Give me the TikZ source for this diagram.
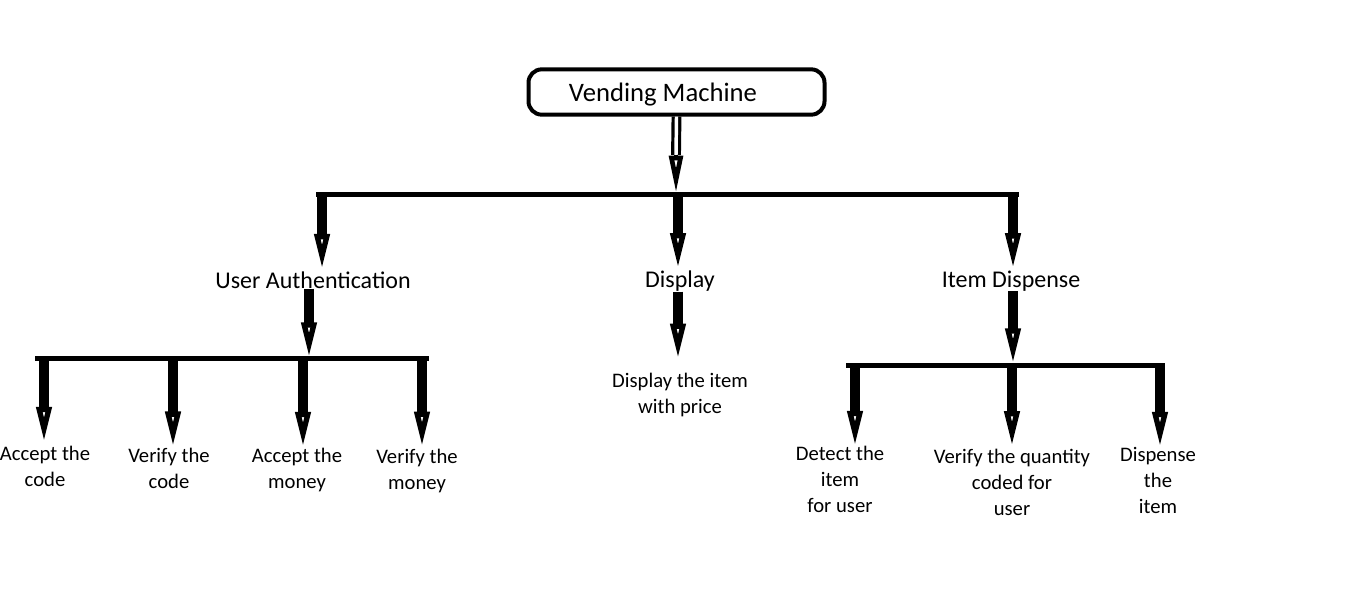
\documentclass[tikz,border=0pt]{standalone}
\usepackage{fontspec}
\setmainfont{Carlito}
\usetikzlibrary{arrows.meta}
\begin{document}
\begin{tikzpicture}[x=0.75pt,y=-0.75pt,
  lbl/.style={align=center, inner sep=0pt, font=\fontsize{15.5}{19.5}\selectfont},
  hd/.style={inner sep=0pt, font=\fontsize{18}{21}\selectfont},
  bar/.style={line width=3.75pt, line cap=rect},
  drop/.style={line width=7.5pt, -{Triangle[open, length=26pt, width=11pt, line width=4pt]}},
  tiponly/.style={line width=2.5pt, -{Triangle[open, length=28pt, width=10pt, line width=3.5pt]}},
  dblshaft/.style={double, line width=2.4pt, double distance=2.6pt},
]
\useasboundingbox (0,0) rectangle (1360,593);
% top box
\node[draw, line width=3pt, rounded corners=10pt, minimum width=222pt, minimum height=34pt] (vm) at (676.5,92) {};
\node[inner sep=0pt, font=\fontsize{20}{24}\selectfont] (vmt) at (663,95) {Vending Machine};
\coordinate (j0h) at (676,155);
\coordinate (j0) at (676,193);
\draw[dblshaft] (vm.south) -- (j0h);
\draw[tiponly] (j0h) -- (j0);
% first level bar
\coordinate (bL) at (318,194);
\coordinate (bR) at (1016,194);
\draw[bar] (bL) -- (bR);
\coordinate (d1) at (322,194);
\coordinate (d2) at (678,194);
\coordinate (d3) at (1013,194);
\node[hd] (ua) at (313,280) {User Authentication};
\node[hd] (ds) at (680,281) {Display};
\node[hd] (id) at (1011,281) {Item Dispense};
\draw[drop, shorten >=2pt] (d1) -- (d1 |- ua.north);
\draw[drop, shorten >=2pt] (d2) -- (d2 |- ds.north);
\draw[drop, shorten >=2pt] (d3) -- (d3 |- id.north);
% user authentication branch
\coordinate (u0) at (309,357);
\draw[drop] (u0 |- ua.south) -- (u0);
\coordinate (ubL) at (37,358);
\coordinate (ubR) at (426,358);
\draw[bar] (ubL) -- (ubR);
\coordinate (e1) at (44,358);
\coordinate (e2) at (173,358);
\coordinate (e3) at (303,358);
\coordinate (e4) at (422,358);
\node[lbl] (ac) at (45,466) {Accept the\\code};
\node[lbl] (vc) at (169,468) {Verify the\\code};
\node[lbl] (am) at (297,470) {Accept the\\money};
\node[lbl] (vmo) at (417,471) {Verify the\\money};
\draw[drop, shorten >=3pt] (e1) -- (e1 |- ac.north);
\draw[drop, shorten >=1pt] (e2) -- (e2 |- vc.north);
\draw[drop, shorten >=1pt] (e3) -- (e3 |- am.north);
\draw[drop, shorten >=2pt] (e4) -- (e4 |- vmo.north);
% display branch
\node[lbl] (dp) at (680,395) {Display the item\\with price};
\draw[drop, shorten >=11pt] (d2 |- ds.south) -- (d2 |- dp.north);
% item dispense branch
\coordinate (i0) at (1013,363);
\draw[drop] (i0 |- id.south) -- (i0);
\coordinate (ibL) at (848,365);
\coordinate (ibR) at (1162,365);
\draw[bar] (ibL) -- (ibR);
\coordinate (f1) at (855,365);
\coordinate (f2) at (1012,365);
\coordinate (f3) at (1160,365);
\node[lbl] (dt) at (840,479) {Detect the\\item\\for user};
\node[lbl] (vq) at (1012,482) {Verify the quantity\\coded for\\user};
\node[lbl] (dn) at (1158,480) {Dispense\\the\\item};
\draw[drop, shorten >=0pt] (f1) -- (f1 |- dt.north);
\draw[drop, shorten >=2pt] (f2) -- (f2 |- vq.north);
\draw[drop, shorten >=0pt] (f3) -- (f3 |- dn.north);
\end{tikzpicture}
\end{document}
